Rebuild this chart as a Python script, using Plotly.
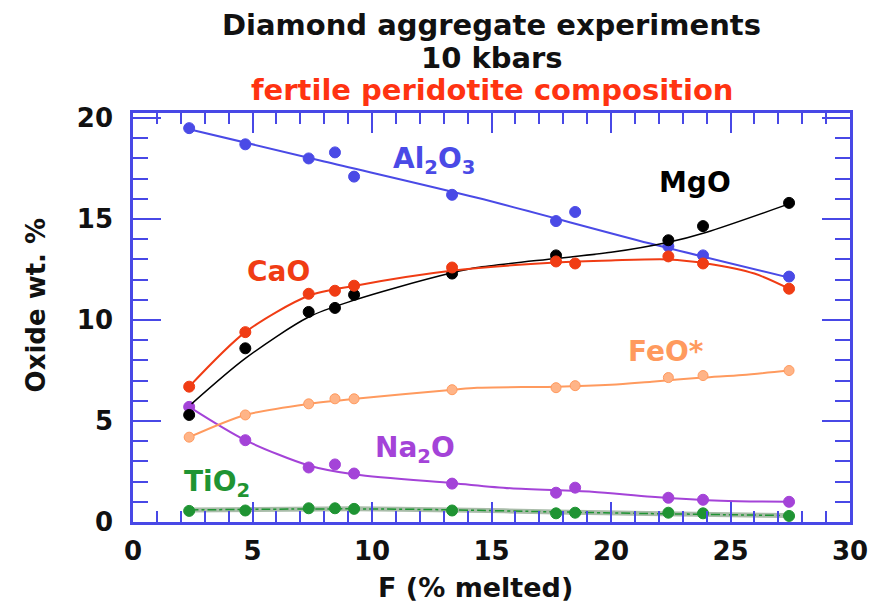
import plotly.graph_objects as go

# ---- data ----
F = [2.35, 4.7, 7.35, 8.45, 9.25, 13.35, 17.7, 18.5, 22.4, 23.85, 27.45]
Al2O3 = [19.5, 18.7, 18.0, 18.3, 17.1, 16.2, 14.9, 15.35, 13.65, 13.2, 12.15]
MgO = [5.3, 8.6, 10.4, 10.6, 11.25, 12.3, 13.2, None, 13.95, 14.65, 15.8]
CaO = [6.7, 9.4, 11.3, 11.45, 11.7, 12.6, 12.9, 12.8, 13.15, 12.8, 11.55]
FeO = [4.2, 5.3, 5.85, 6.1, 6.1, 6.55, 6.65, 6.75, 7.15, 7.25, 7.5]
Na2O = [5.7, 4.05, 2.7, 2.85, 2.4, 1.9, 1.45, 1.7, 1.2, 1.1, 1.0]
TiO2 = [0.55, 0.57, 0.68, 0.68, 0.65, 0.57, 0.43, 0.46, 0.46, 0.43, 0.3]

# fitted trend curves
Al_fx = [2.35, 8.0, 14.4, 21.6, 27.45]
Al_fy = [19.45, 17.85, 16.05, 13.8, 12.1]
Mg_fx = [2.45, 4.7, 7.35, 9.3, 11.0, 13.4, 14.4, 17.7, 20.0, 22.4, 24.0, 27.45]
Mg_fy = [5.85, 8.1, 10.15, 11.0, 11.6, 12.35, 12.6, 13.05, 13.35, 13.85, 14.35, 15.75]
Ca_fx = [2.35, 4.7, 7.35, 9.3, 13.4, 17.7, 20.0, 22.4, 24.0, 26.0, 27.45]
Ca_fy = [6.7, 9.4, 11.2, 11.7, 12.45, 12.85, 12.95, 13.0, 12.8, 12.3, 11.55]
Fe_fx = [2.35, 4.7, 7.35, 9.3, 13.4, 14.4, 17.7, 20.0, 21.7, 23.85, 25.5, 27.45]
Fe_fy = [4.2, 5.3, 5.85, 6.1, 6.55, 6.65, 6.7, 6.8, 6.95, 7.15, 7.28, 7.5]
Na_fx = [2.35, 4.7, 7.35, 9.3, 13.4, 15.8, 19.2, 21.7, 24.6, 27.45]
Na_fy = [5.7, 4.05, 2.8, 2.35, 1.92, 1.67, 1.5, 1.25, 1.05, 1.0]
Ti_fx = [2.35, 9.3, 13.4, 17.7, 21.5, 27.45]
Ti_fy = [0.6, 0.65, 0.6, 0.5, 0.42, 0.32]

xticks = [0, 5, 10, 15, 20, 25, 30]
yticks = [0, 5, 10, 15, 20]

BLUE = "#4848e6"
C_AL = "#4a4ae6"
C_MG = "#000000"
C_CA = "#f03c14"
C_FE = "#ff9a5e"
C_NA = "#a443d8"
C_TI = "#1f9433"
FONT = "DejaVu Sans"

fig = go.Figure()

def curve(x, y, color, width=2, dash="solid"):
    fig.add_trace(go.Scatter(x=x, y=y, mode="lines", line=dict(color=color, width=width, dash=dash, shape="spline", smoothing=0.8),
                             hoverinfo="skip", showlegend=False))

def pts(y, color, line_color=None, size=11):
    fig.add_trace(go.Scatter(x=F, y=y, mode="markers",
                             marker=dict(color=color, size=size, line=dict(color=line_color or color, width=1)),
                             showlegend=False))

# TiO2 (grey band + green dash-dot)
curve(Ti_fx, Ti_fy, "#a9bca9", width=5)
curve(Ti_fx, Ti_fy, C_TI, width=1.5, dash="dashdot")
pts(TiO2, C_TI)

curve(Na_fx, Na_fy, C_NA)
pts(Na2O, C_NA)

curve(Fe_fx, Fe_fy, C_FE)
pts(FeO, "#ffb487", C_FE, size=10)

curve(Al_fx, Al_fy, C_AL)
pts(Al2O3, C_AL)

curve(Mg_fx, Mg_fy, C_MG, width=1.5)
pts(MgO, C_MG)

curve(Ca_fx, Ca_fy, C_CA)
pts(CaO, C_CA)

labfont = dict(family=FONT, size=28, weight="bold")
labels = [
    ("Al<sub>2</sub>O<sub>3</sub>", 12.6, 17.9, C_AL),
    ("MgO", 23.5, 16.8, C_MG),
    ("CaO", 6.1, 12.4, C_CA),
    ("FeO*", 22.3, 8.45, C_FE),
    ("Na<sub>2</sub>O", 11.8, 3.6, C_NA),
    ("TiO<sub>2</sub>", 3.5, 1.9, C_TI),
]
for t, x, y, c in labels:
    fig.add_annotation(x=x, y=y, text=t, showarrow=False, xanchor="center", yanchor="middle",
                       font=dict(color=c, **labfont))

# titles
tfont = dict(family=FONT, size=29, weight="bold")
fig.add_annotation(xref="paper", yref="paper", x=0.5, y=1.215, text="Diamond aggregate experiments",
                   showarrow=False, yanchor="middle", font=dict(color="#111111", **tfont))
fig.add_annotation(xref="paper", yref="paper", x=0.5, y=1.134, text="10 kbars",
                   showarrow=False, yanchor="middle", font=dict(color="#111111", **tfont))
fig.add_annotation(xref="paper", yref="paper", x=0.5, y=1.056, text="fertile peridotite composition",
                   showarrow=False, yanchor="middle", font=dict(color="#ff3311", **tfont))
# axis titles
fig.add_annotation(xref="paper", yref="paper", x=0.477, y=-0.16, text="F (% melted)",
                   showarrow=False, yanchor="middle", font=dict(color="#111111", family=FONT, size=27, weight="bold"))
fig.add_annotation(xref="paper", yref="paper", x=-0.135, y=0.53, text="Oxide wt. %", textangle=-90,
                   showarrow=False, xanchor="center", yanchor="middle",
                   font=dict(color="#111111", family=FONT, size=26, weight="bold"))

axcommon = dict(showgrid=False, zeroline=False, showline=True, linecolor=BLUE, linewidth=2.5,
                mirror="ticks", ticks="inside", tickcolor=BLUE, tickwidth=2,
                tickfont=dict(family=FONT, size=26, color="#111111", weight="bold"))
fig.update_xaxes(range=[0, 30], tickvals=xticks, ticktext=[str(v) for v in xticks], ticklen=20,
                 ticklabelstandoff=4,
                 minor=dict(ticks="inside", dtick=1, ticklen=11, tickcolor=BLUE, tickwidth=2),
                 **axcommon)
fig.update_yaxes(range=[0, 20.25], tickvals=yticks, ticktext=[str(v) for v in yticks], ticklen=28,
                 ticklabelstandoff=12,
                 minor=dict(ticks="inside", dtick=1, ticklen=15, tickcolor=BLUE, tickwidth=2),
                 **axcommon)

fig.update_layout(width=880, height=604, margin=dict(l=133, r=24, t=113, b=82),
                  plot_bgcolor="white", paper_bgcolor="white", showlegend=False)

fig.write_html("out.html", config={"displayModeBar": False},
               post_script="document.body.style.margin='0';document.body.style.padding='0';")
